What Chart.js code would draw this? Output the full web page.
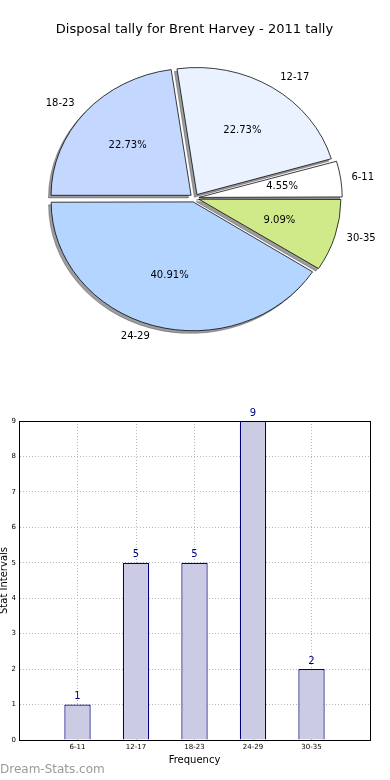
<!DOCTYPE html>
<html>
<head>
<meta charset="utf-8">
<script src="https://cdn.jsdelivr.net/npm/chart.js@4.4.1/dist/chart.umd.min.js"></script>
<style>
  html, body { margin: 0; padding: 0; background: #ffffff; }
  body { width: 390px; height: 780px; position: relative; overflow: hidden; font-family: "DejaVu Sans", sans-serif; }
  #title { position: absolute; left: 0; top: 21px; width: 389px; text-align: center; font-size: 13px; color: #000; }
  #pieWrap { position: absolute; left: 0; top: 0; width: 390px; height: 400px; }
  #barWrap { position: absolute; left: 0; top: 400px; width: 390px; height: 380px; }
  #wm { position: absolute; left: 0; top: 762px; font-size: 12px; color: #9a9a9a; z-index: 5; }
</style>
</head>
<body>
<div id="pieWrap"><canvas id="pie" width="390" height="400"></canvas></div>
<div id="barWrap"><canvas id="bar" width="390" height="380"></canvas></div>
<div id="title">Disposal tally for Brent Harvey - 2011 tally</div>
<div id="wm">Dream-Stats.com</div>
<script>
// ---- data ----
const chartTitle = 'Disposal tally for Brent Harvey - 2011 tally';
const categories = ['6-11', '12-17', '18-23', '24-29', '30-35'];
const counts = [1, 5, 5, 9, 2];
const sliceColors = ['#ffffff', '#eaf2ff', '#c4d8ff', '#b4d5ff', '#d0ea8a'];
const yTicks = [0, 1, 2, 3, 4, 5, 6, 7, 8, 9];
const xAxisTitle = 'Frequency';
const yAxisTitle = 'Stat Intervals';

const FONT = '"DejaVu Sans", "Liberation Sans", sans-serif';
const Y_SCALE = 0.907;      // ellipse squash of the pie
const EXPLODE = 4.5;        // px the slices are pushed out

// pie drawn clockwise from 3 o'clock -> reverse order to mimic counter-clockwise
const pieLabels = categories.slice().reverse();
const pieValues = counts.slice().reverse();
const pieColors = sliceColors.slice().reverse();
const total = counts.reduce((a, b) => a + b, 0);

const ellipsePlugin = {
  id: 'ellipse',
  beforeDatasetsDraw(chart) {
    const ctx = chart.ctx;
    const arcs = chart.getDatasetMeta(0).data;
    const cx = arcs[0].x, cy = arcs[0].y;
    ctx.save();
    ctx.translate(cx, cy);
    ctx.scale(1, Y_SCALE);
    ctx.translate(-cx, -cy);
    // shadow pass (drawn below all slices)
    arcs.forEach(arc => {
      const o = arc.options;
      arc.options = Object.assign({}, o, {
        backgroundColor: 'rgba(60,60,66,0.5)',
        borderColor: 'rgba(60,60,66,0.5)'
      });
      ctx.save();
      ctx.translate(-2.6, 2.6 / Y_SCALE);
      arc.draw(ctx);
      ctx.restore();
      arc.options = o;
    });
  },
  afterDatasetsDraw(chart) {
    const ctx = chart.ctx;
    ctx.restore();
    const arcs = chart.getDatasetMeta(0).data;
    ctx.save();
    ctx.fillStyle = '#000';
    ctx.font = '10px ' + FONT;
    ctx.textBaseline = 'middle';
    arcs.forEach((arc, i) => {
      const mid = (arc.startAngle + arc.endAngle) / 2;
      const R = arc.outerRadius;
      const c = Math.cos(mid), s = Math.sin(mid);
      const ox = arc.x + c * EXPLODE, oy = arc.y + s * EXPLODE * Y_SCALE;
      ctx.textAlign = c >= 0 ? 'left' : 'right';
      ctx.fillText(pieLabels[i], ox + c * R * 1.1, oy + s * R * 1.1 * Y_SCALE);
      ctx.textAlign = 'center';
      const pct = (pieValues[i] / total * 100).toFixed(2) + '%';
      ctx.fillText(pct, ox + c * R * 0.6, oy + s * R * 0.6 * Y_SCALE);
    });
    ctx.restore();
  }
};

new Chart(document.getElementById('pie'), {
  type: 'pie',
  data: {
    labels: pieLabels,
    datasets: [{
      data: pieValues,
      backgroundColor: pieColors,
      borderColor: '#000000',
      borderWidth: 0.8,
      offset: EXPLODE * 4,   // Chart.js v4 arc draws offset/4
      radius: 140,
      clip: false
    }]
  },
  options: {
    responsive: false,
    animation: false,
    rotation: 90,
    layout: { padding: { left: 0, right: 1, top: 0, bottom: 4 } },
    plugins: { legend: { display: false }, tooltip: { enabled: false }, title: { display: false } }
  },
  plugins: [ellipsePlugin]
});

// ---- bar chart ----
const barPoints = counts.map((v, i) => ({ x: i + 1, y: v }));

const barExtras = {
  id: 'barExtras',
  afterDatasetsDraw(chart) {
    const ctx = chart.ctx;
    const bars = chart.getDatasetMeta(0).data;
    ctx.save();
    ctx.fillStyle = '#000080';
    ctx.font = '10px ' + FONT;
    ctx.textAlign = 'center';
    ctx.textBaseline = 'bottom';
    bars.forEach((b, i) => ctx.fillText(String(counts[i]), b.x, b.y - 3));
    ctx.restore();
  },
  afterDraw(chart) {
    const { ctx, chartArea: a } = chart;
    ctx.save();
    ctx.strokeStyle = '#000';
    ctx.lineWidth = 1;
    ctx.strokeRect(Math.round(a.left) + 0.5, Math.round(a.top) + 0.5, Math.round(a.right - a.left), Math.round(a.bottom - a.top));
    ctx.restore();
  }
};

new Chart(document.getElementById('bar'), {
  type: 'bar',
  data: {
    datasets: [{
      data: barPoints,
      backgroundColor: '#cbcbe4',
      borderColor: '#000080',
      borderWidth: 1.2,
      barPercentage: 0.45,
      categoryPercentage: 1
    }]
  },
  options: {
    responsive: false,
    animation: false,
    layout: { padding: { left: 0, right: 20, top: 21, bottom: 0 } },
    plugins: { legend: { display: false }, tooltip: { enabled: false } },
    scales: {
      x: {
        type: 'linear',
        offset: false,
        min: 0, max: 6,
        afterFit(scale) { scale.height = 40; },
        afterBuildTicks(scale) { scale.ticks = [0, 1, 2, 3, 4, 5, 6].map(v => ({ value: v })); },
        ticks: {
          stepSize: 1,
          padding: 3,
          color: '#000',
          font: { size: 7, family: FONT },
          maxRotation: 0,
          autoSkip: false,
          callback: (v) => categories[v - 1] || ''
        },
        grid: {
          offset: false,
          drawTicks: false,
          color: (ctx) => (ctx.tick && ctx.tick.value >= 1 && ctx.tick.value <= categories.length) ? '#b8b8b8' : 'rgba(0,0,0,0)',
          lineWidth: 1
        },
        border: { display: true, color: '#000', width: 1, dash: [1, 2] },
        title: { display: true, text: xAxisTitle, color: '#000', font: { size: 10, family: FONT }, padding: { top: 0, bottom: 14 } }
      },
      y: {
        min: 0, max: 9,
        afterFit(scale) { scale.width = 19; },
        afterBuildTicks(scale) { scale.ticks = yTicks.map(v => ({ value: v })); },
        ticks: { stepSize: 1, padding: 3, color: '#000', font: { size: 7, family: FONT } },
        grid: { drawTicks: false, color: '#b8b8b8', lineWidth: 1 },
        border: { display: true, color: '#000', width: 1, dash: [1, 2] },
        title: { display: true, text: yAxisTitle, color: '#000', font: { size: 10, family: FONT }, padding: { top: -1.5, bottom: 0 } }
      }
    }
  },
  plugins: [barExtras]
});
</script>
</body>
</html>
